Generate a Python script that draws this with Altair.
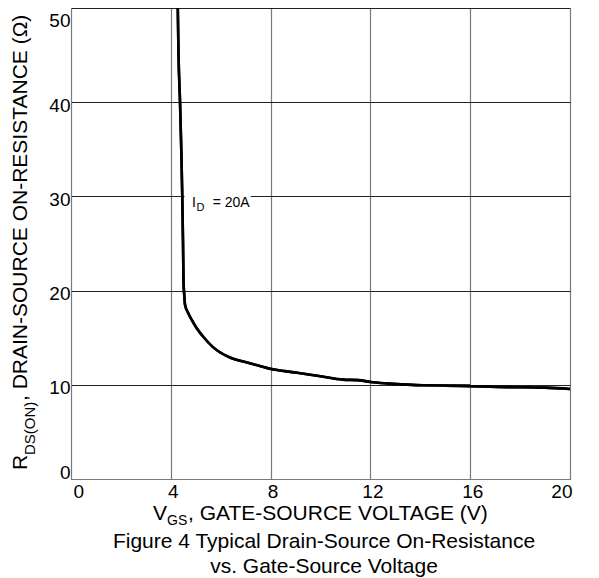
import altair as alt
import pandas as pd

# Curve data
vgs = [4.28, 4.31, 4.37, 4.42, 4.46, 4.49, 4.51, 4.54, 4.57, 4.70, 4.84, 5.04, 5.3,
       5.69, 6.0, 6.37, 7.17, 7.98, 9.0, 10.0, 10.9, 11.5, 12.0, 12.66, 13.3, 14.1, 15.0,
       16.0, 17.5, 19.0, 20.0]
rds = [50, 45, 40, 35, 30, 25, 21, 19.5, 18.5, 17.6, 16.9, 16.0, 15.1,
       14.0, 13.4, 12.9, 12.3, 11.7, 11.3, 10.9, 10.55, 10.5, 10.3, 10.15, 10.05, 9.95, 9.9,
       9.9, 9.75, 9.7, 9.55]

x_ticks = [0, 4, 8, 12, 16, 20]
y_ticks = [0, 10, 20, 30, 40, 50]

# annotation (data coordinates)
label_parts = ["I", "D", "= 20A"]
label_x = [4.85, 5.03, 5.68]
label_y = [28.9, 28.4, 28.9]
label_size = [14, 11, 14]
box_x, box_x2, box_y, box_y2 = 4.55, 7.2, 30.9, 28.2

FONT = "Liberation Sans"

df = pd.DataFrame({"V": vgs, "R": rds})

xscale = alt.Scale(domain=[0, 20], nice=False, zero=False)
yscale = alt.Scale(domain=[0, 50], nice=False, zero=False)

xaxis = alt.Axis(values=x_ticks, title=None, grid=True, gridColor="#7a7a7a", gridWidth=1.2,
                 ticks=False, domainColor="#7a7a7a", labelFont=FONT, labelFontSize=19,
                 labelColor="black", labelPadding=3, labelOffset=2)
yaxis = alt.Axis(values=y_ticks, title=None, grid=True, gridColor="#222222", gridWidth=1,
                 ticks=False, domainColor="#7a7a7a", labelFont=FONT, labelFontSize=19,
                 labelColor="black", labelPadding=1, labelFlush=True, labelOffset=3)

line = alt.Chart(df).mark_line(color="black", strokeWidth=2.6, interpolate="monotone").encode(
    x=alt.X("V:Q", scale=xscale, axis=xaxis),
    y=alt.Y("R:Q", scale=yscale, axis=yaxis),
    order="R:Q",
)

box = alt.Chart(pd.DataFrame({"x": [box_x], "x2": [box_x2], "y": [box_y], "y2": [box_y2]})).mark_rect(
    color="white").encode(
    x=alt.X("x:Q", scale=xscale), x2="x2:Q",
    y=alt.Y("y:Q", scale=yscale), y2="y2:Q",
)

ann = alt.Chart(pd.DataFrame({"t": label_parts, "x": label_x, "y": label_y, "s": label_size})).mark_text(
    align="left", baseline="alphabetic", font=FONT, fill="black").encode(
    x=alt.X("x:Q", scale=xscale), y=alt.Y("y:Q", scale=yscale), text="t:N",
    size=alt.Size("s:Q", scale=None, legend=None),
    color=alt.value("black"),
)

def txt(text, x, y, size, angle=0, align="left"):
    kw = dict(align=align, baseline="alphabetic", font=FONT, fontSize=size, color="black", text=text)
    if angle:
        kw["angle"] = angle
    return alt.Chart(pd.DataFrame({"a": [0]})).mark_text(**kw).encode(
        x=alt.value(x), y=alt.value(y))

# titles (pixel offsets relative to plot origin)
titles = [
    txt("V", 82, 512, 21),
    txt("GS", 96, 517, 14),
    txt(", GATE-SOURCE VOLTAGE (V)", 117, 512, 21),
    txt("Figure 4 Typical Drain-Source On-Resistance", 253, 540, 21, align="center"),
    txt("vs. Gate-Source Voltage", 253, 565, 21, align="center"),
    txt("R", -44, 462, 21, angle=270),
    txt("DS(ON)", -36, 447, 15, angle=270),
    txt(", DRAIN-SOURCE ON-RESISTANCE (Ω)", -44, 393, 21, angle=270),
]

chart = alt.layer(line, box, line, ann, *titles).properties(
    width=499, height=471,
    autosize=alt.AutoSizeParams(type="none"),
    padding={"left": 71, "top": 8, "right": 29, "bottom": 99},
).configure_view(stroke=None).configure(background="white")

chart.save("out.html", embed_options={"renderer": "svg", "actions": False})
